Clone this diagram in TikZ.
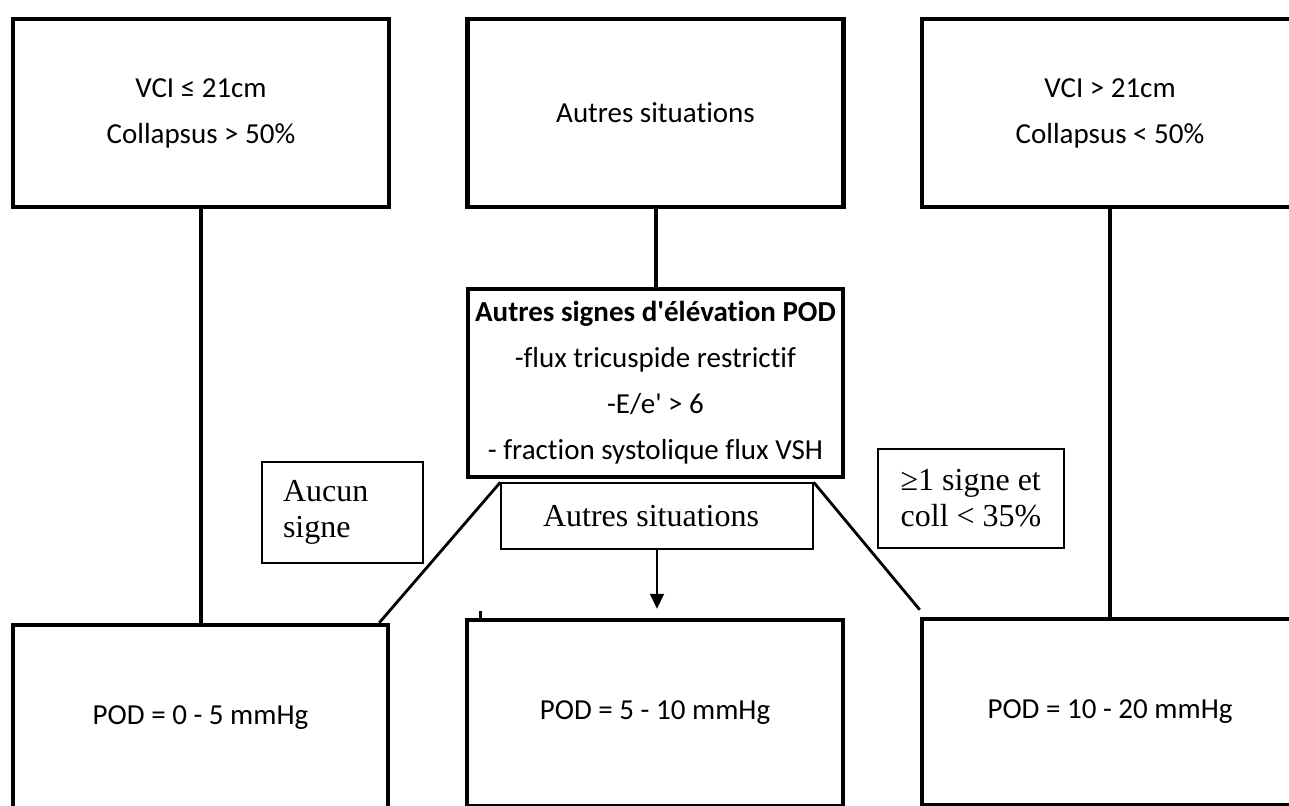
\documentclass[tikz,border=0pt]{standalone}
\usepackage{fontspec}
\setmainfont{Carlito}[Ligatures={TeXOff,NoCommon}]
\newfontfamily\timesfont{Liberation Serif}[Ligatures={TeXOff,NoCommon}]
\usetikzlibrary{arrows.meta}

\begin{document}
\begin{tikzpicture}[x=0.5pt,y=-0.5pt,
            bigbox/.style={draw,line width=2.25pt,minimum width=188pt,minimum height=94pt,
                align=center,font=\fontsize{14.5}{23}\selectfont},
            smallbox/.style={draw,line width=0.7pt,inner xsep=10pt,align=left,
                font=\timesfont\fontsize{16}{18}\selectfont},
            link/.style={line width=2pt},
            diag/.style={line width=1.4pt},
            arrow/.style={line width=1pt,-{Triangle[length=7.5pt,width=7pt]}}]
            \useasboundingbox (0,0) rectangle (1289,805);
            \begin{scope}
                \node[bigbox] (vcilow) at (201,113) {VCI ≤ 21cm\\Collapsus > 50\%};
                \node[bigbox] (autres) at (655.5,113) {Autres situations};
                \node[bigbox] (vcihigh) at (1110,113) {VCI > 21cm\\Collapsus < 50\%};
            \end{scope}
            \node[bigbox,minimum width=187.5pt] (signes) at (655.5,383)
                {\textbf{Autres signes d'élévation POD}\\-flux tricuspide restrictif\\-E/e' > 6\\- fraction systolique flux VSH};
            \node[smallbox,align=center,inner xsep=0pt,minimum width=156pt,minimum height=33pt] (sitbox) at (657,516) {\hspace*{-6pt}Autres situations};
            \node[smallbox,text width=59.5pt,inner xsep=10.5pt,minimum height=50.5pt] (aucun) at (342.5,512.5) {Aucun\\signe};
            \node[smallbox,minimum width=93pt,minimum height=49.5pt] (unsigne) at (971,498.5) {≥1 signe et\\coll < 35\%};
            \begin{scope}
                \node[bigbox,minimum width=187.5pt,minimum height=93pt] (pod1) at (200.5,718) {POD = 0 - 5 mmHg};
                \node[bigbox,minimum height=93pt] (pod2) at (655,713) {POD = 5 - 10 mmHg};
                \node[bigbox,minimum height=93pt] (pod3) at (1110,712) {POD = 10 - 20 mmHg};
            \end{scope}
            \draw[link] (vcilow.south) -- (vcilow.south |- pod1.north);
            \draw[link] (autres) -- (signes);
            \draw[link] (vcihigh.south) -- (vcihigh.south |- pod3.north);
            \draw[diag] (sitbox.north west) -- ([xshift=-5.5pt]pod1.north east);
            \draw[diag] (sitbox.north east) -- ([yshift=3.5pt]pod3.north west);
            \draw[arrow] (sitbox.south) -- ([yshift=4.5pt]sitbox.south |- pod2.north);
            \draw[line width=1.5pt] ([xshift=8pt]pod2.north west) -- ++(0,-7);
\end{tikzpicture}
\end{document}
